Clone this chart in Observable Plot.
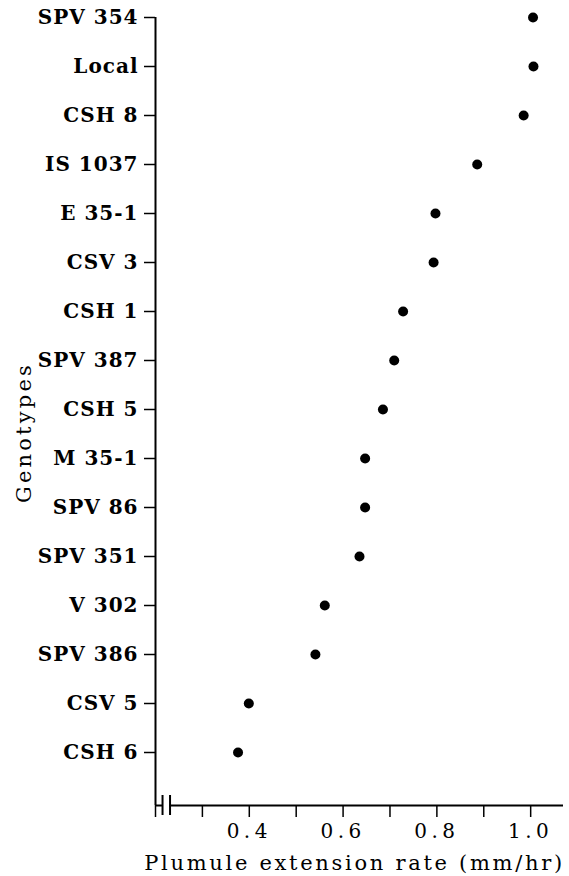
<!DOCTYPE html>
<html><head><meta charset="utf-8">
<script src="https://cdn.jsdelivr.net/npm/d3@7"></script>
<script src="https://cdn.jsdelivr.net/npm/@observablehq/plot@0.6"></script>
<style>
body{margin:0;background:#fff}
#chart svg{background:#fff}
#chart g[aria-label="x-axis tick label"] text{letter-spacing:4.5px}
#chart g[aria-label="y-axis tick label"] text{letter-spacing:1px}
</style>
</head><body><div id="chart"></div>
<script>
const genotypes = ["SPV 354","Local","CSH 8","IS 1037","E 35-1","CSV 3","CSH 1","SPV 387","CSH 5","M 35-1","SPV 86","SPV 351","V 302","SPV 386","CSV 5","CSH 6"];
const rates = [1.005,1.006,0.985,0.886,0.797,0.793,0.728,0.709,0.685,0.647,0.647,0.635,0.561,0.541,0.399,0.376];
const xTicks = [0.2,0.3,0.4,0.5,0.6,0.7,0.8,0.9,1.0];
const xLabelTicks = [0.4,0.6,0.8,1.0];
const xDomain = [0.2,1.07];
const axisBreaks = [0.215,0.231];
const xTitle = "Plumule extension rate (mm/hr)";
const yTitle = "Genotypes";

const data = genotypes.map((g,i)=>({genotype:g, rate:rates[i]}));
const bottomCat = genotypes[genotypes.length-1];

const chart = Plot.plot({
  width:569, height:876,
  marginLeft:155, marginRight:6, marginTop:17, marginBottom:71,
  style:{fontFamily:"'DejaVu Serif', serif", color:"#000", background:"#fff"},
  x:{domain:xDomain},
  y:{type:"point", domain:genotypes, range:[17.3,752.3], padding:0},
  marks:[
    Plot.ruleX([xDomain[0]], {stroke:"#000", strokeWidth:2}),
    Plot.ruleY([bottomCat], {x1:()=>xDomain[0], x2:()=>axisBreaks[0], dy:53, stroke:"#000", strokeWidth:2}),
    Plot.ruleY([bottomCat], {x1:()=>axisBreaks[1], x2:()=>xDomain[1], dy:53, stroke:"#000", strokeWidth:2}),
    Plot.ruleX(axisBreaks, {insetTop:778, insetBottom:-10, stroke:"#000", strokeWidth:2}),
    Plot.axisX(xTicks, {tickSize:12, tickPadding:6, strokeWidth:1.5,
      tickFormat:d=>xLabelTicks.includes(d)?d3.format(".1f")(d):"", fontSize:20, label:null}),
    Plot.axisY({tickSize:11, tickPadding:6, strokeWidth:1.5, fontSize:20, fontWeight:"bold", label:null}),
    Plot.dot(data, {x:"rate", y:"genotype", r:5, fill:"#000", stroke:null}),
    Plot.text([xTitle], {frameAnchor:"bottom", lineAnchor:"bottom", dy:64, dx:-5, fontSize:21}),
    Plot.text([yTitle], {frameAnchor:"left", textAnchor:"middle", rotate:-90, dx:-131, dy:21, fontSize:21})
  ]
});
d3.select(chart).selectAll("text").each(function(){
  if (this.textContent === xTitle) this.style.letterSpacing = "2.7px";
  if (this.textContent === yTitle) this.style.letterSpacing = "3.2px";
});
document.getElementById("chart").appendChild(chart);
</script>
</body></html>
